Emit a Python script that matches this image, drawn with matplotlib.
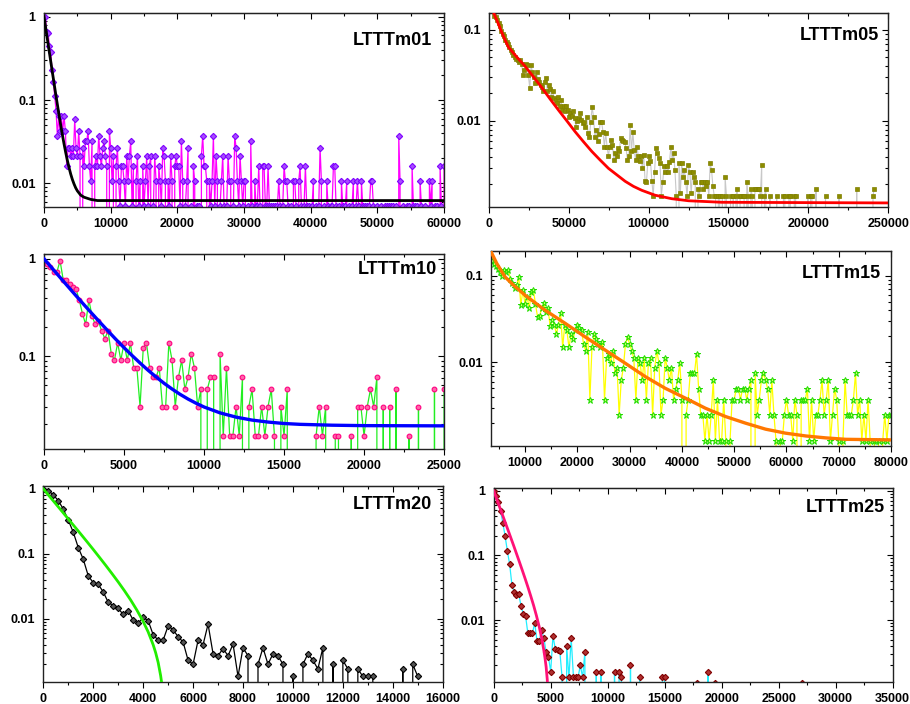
import numpy as np
import matplotlib
matplotlib.use('Agg')
import matplotlib.pyplot as plt
from matplotlib.ticker import MultipleLocator, LogLocator, FuncFormatter, NullFormatter

plt.rcParams['font.family'] = ['Liberation Sans', 'DejaVu Sans']
plt.rcParams['font.weight'] = 'bold'

# ---------------- LTTTm01 (counts, one bin every 200) ----------------
m01_step = 200
m01_norm = 188
m01_counts = [
    188, 124, 122, 84, 71, 43, 31, 21, 14, 7, 12, 8, 12, 8, 12, 8, 3, 5, 5, 4, 5, 4, 11, 5, 4,
    8, 4, 0, 5, 3, 6, 6, 8, 3, 2, 6, 0, 3, 4, 3, 7, 4, 3, 5, 6, 4, 3, 0, 8, 5,
    2, 4, 0, 3, 5, 2, 1, 3, 3, 2, 1, 4, 2, 4, 6, 1, 3, 0, 2, 4, 1, 2, 0, 3, 1,
    2, 4, 1, 3, 4, 0, 1, 4, 2, 0, 3, 2, 1, 5, 4, 2, 0, 2, 1, 4, 2, 0, 3, 4, 3,
    3, 1, 6, 2, 0, 1, 2, 5, 0, 1, 0, 3, 2, 0, 1, 1, 0, 4, 7, 3, 3, 2, 0, 2, 1,
    2, 7, 1, 4, 2, 0, 1, 2, 4, 1, 0, 1, 4, 2, 2, 0, 1, 7, 5, 2, 1, 4, 2, 1, 2,
    2, 0, 1, 0, 6, 1, 0, 2, 1, 1, 3, 1, 0, 3, 3, 1, 1, 3, 1, 1, 0, 1, 1, 0, 1,
    2, 1, 0, 1, 3, 2, 2, 1, 0, 1, 0, 2, 2, 1, 0, 2, 3, 1, 0, 1, 3, 1, 0, 1, 0,
    1, 2, 0, 1, 0, 1, 5, 2, 0, 1, 0, 2, 1, 0, 1, 1, 3, 3, 1, 0, 1, 0, 2, 1, 0,
    1, 2, 0, 1, 0, 1, 2, 0, 1, 2, 1, 0, 2, 1, 0, 1, 1, 0, 1, 2, 2, 1, 0, 0, 1,
    0, 0, 1, 0, 0, 1, 1, 0, 1, 1, 0, 1, 0, 1, 0, 7, 2, 0, 1, 0, 0, 1, 0, 1, 0,
    3, 1, 1, 0, 1, 0, 2, 1, 0, 0, 1, 0, 0, 2, 1, 2, 0, 1, 0, 1, 0, 3, 1, 0, 3,
]
m01_fit_x = [0, 250, 500, 750, 1000, 1250, 1500, 1750, 2000, 2250, 2500, 2750, 3000, 3250,
             3500, 3750, 4000, 4250, 4500, 4750, 5000, 5500, 6000, 7000, 8000, 60000]
m01_fit_y = [1.006, 0.738, 0.541, 0.398, 0.293, 0.216, 0.160, 0.118, 0.0883, 0.0663, 0.0501,
             0.0383, 0.0297, 0.0234, 0.0188, 0.0154, 0.0129, 0.0111, 0.0098, 0.0088, 0.0081,
             0.0072, 0.0068, 0.0064, 0.0062, 0.0062]

# ---------------- LTTTm05 (values x1e-3, one point every 850) ----------------
m05_start = 3400
m05_step = 850
m05_vals = [
    143, 137, 128, 118, 109, 98, 90, 85, 78, 73, 70, 65, 60, 57, 53, 50, 48,
    47, 44, 47, 42, 31.6, 36, 42, 41, 31.6, 23, 41, 34, 30, 25.7, 34, 28.5, 26.5, 24.5, 23.6, 21,
    26.5, 29.7, 21, 24.5, 22.5, 18.4, 21, 18, 17, 15.5, 18.4, 14.6, 17, 13.1, 14.6, 12.8, 14.6, 13.1, 11, 12.1,
    11.3, 12.8, 10.8, 8.6, 10, 10.8, 12.1, 10.3, 9.4, 9.7, 8.6, 11, 7.3, 6.7, 9.7, 14.3, 11, 6.7, 7.9, 6,
    7.1, 9.7, 9.6, 7.6, 5.2, 7.3, 5.2, 4.1, 5.2, 6.2, 5.4, 3.7, 4.4, 4.1, 5.0, 4.6, 6.4, 6.2, 6.0, 5.9,
    5.0, 3.7, 4.1, 9.0, 4.6, 7.6, 4.8, 3.7, 5.2, 4.1, 3.6, 4.1, 3.0, 4.2, 2.2, 2.1, 3.4, 4.1, 3.6, 2.2,
    1.5, 2.7, 5.0, 4.4, 3.9, 3.4, 1.5, 2.1, 3.2, 2.7, 3.2, 2.7, 3.5, 5.2, 3.7, 4.4, 2.9, 1.5, 0, 3.4,
    1.6, 3.4, 2.4, 2.9, 2.1, 1.5, 3.3, 2.7, 1.6, 2.7, 2.4, 2.1, 0, 1.8, 1.5, 2.1, 2.1, 1.8, 2.1, 1.9,
    2.1, 1.5, 3.4, 2.9, 1.9, 1.5,
    1.5, 0, 1.5, 1.5, 0, 1.5, 0, 2.4, 1.5, 0, 0, 1.5, 0, 1.5, 0, 1.5, 1.8, 0,
    1.5, 1.5, 1.5, 1.5, 0, 2.1, 1.5, 0, 1.8, 1.5, 0, 1.8, 1.8, 1.8, 1.8, 1.5, 3.3, 0,
    1.5, 1.8, 0, 0, 1.5, 0, 0, 0, 0, 1.5, 0, 0, 0, 0, 1.5, 1.5, 0, 0,
    1.5, 1.5, 0, 0, 1.5, 1.5, 0, 0, 0, 0, 0, 0, 0, 0, 1.5, 0, 1.5, 1.5,
    0, 0, 1.8, 0, 0, 0, 0, 0, 0, 1.5, 0, 0, 0, 0, 0, 0, 0, 0,
    0, 1.5, 0, 0, 0, 0, 0, 0, 0, 0, 0, 0, 0, 0, 1.8, 0, 0, 0,
    0, 0, 0, 0, 0, 0, 0, 0, 1.5, 1.8,
]
m05_fit_x = [3000, 5850, 7900, 10000, 12100, 17350, 22600, 27800, 33000, 38200, 43500, 48700,
             53900, 59100, 64400, 69600, 74800, 80000, 85300, 90500, 95700, 104000, 114500,
             125000, 145900, 250000]
m05_fit_y = [152, 116, 94.3, 77.7, 64.6, 50.2, 39.7, 30.4, 23.2, 17.4, 13.1, 10.0, 7.6, 5.9,
             4.6, 3.7, 3.0, 2.55, 2.16, 1.9, 1.72, 1.52, 1.39, 1.32, 1.27, 1.25]

# ---------------- LTTTm10 (counts, one bin every 200) ----------------
m10_step = 200
m10_norm = 66
m10_counts = [
    59, 54, 48, 48, 63, 40, 40, 36, 34, 32,
    25, 18, 14, 25, 17, 14, 15, 12, 10, 12,
    7, 6, 9, 6, 9, 6, 9, 5, 5, 2,
    8, 9, 5, 4, 4, 5, 2, 2, 9, 6,
    2, 4, 6, 3, 4, 7, 5, 2, 3, 0,
    3, 4, 4, 0, 7, 1, 5, 1, 1, 2,
    1, 4, 0, 2, 3, 1, 1, 2, 1, 2,
    3, 1, 0, 2, 1, 3, 0, 0, 0, 0,
    0, 0, 0, 0, 1, 2, 1, 2, 0, 0,
    1, 1, 0, 0, 0, 1, 0, 2, 2, 1,
    2, 3, 2, 4, 0, 2, 0, 2, 0, 3,
    0, 0, 0, 1, 0, 0, 2, 0, 0, 0,
    0, 3, 0, 0, 3,
]
m10_fit_x = [0, 500, 1000, 1500, 2000, 2500, 3000, 3500, 4000, 4500, 5000, 5500, 6000, 6500,
             7000, 7500, 8000, 8500, 9000, 9500, 10000, 11000, 12000, 13000, 14000, 15000,
             16000, 18000, 20000, 25000]
m10_fit_y = [0.999, 0.802, 0.644, 0.518, 0.417, 0.337, 0.273, 0.222, 0.181, 0.148, 0.122,
             0.1015, 0.0849, 0.0716, 0.0611, 0.0526, 0.0459, 0.0405, 0.0362, 0.0328, 0.0300,
             0.0261, 0.0236, 0.0220, 0.0210, 0.0203, 0.0199, 0.0195, 0.0193, 0.0192]

# ---------------- LTTTm15 (counts, one bin every 400) ----------------
m15_start = 3600
m15_step = 400
m15_norm = 806
m15_counts = [
    120, 112, 104, 96, 90, 80, 95, 90, 95, 75,
    66, 58, 63, 78, 37, 55, 38, 46, 34, 52,
    55, 38, 27, 28, 34, 39, 31, 34, 21, 25,
    22, 17, 22, 30, 12, 22, 19, 12, 17, 15,
    19, 22, 20, 19, 13, 11, 18, 3, 12, 17,
    15, 13, 12, 14, 3, 9, 10, 8, 11, 6,
    7, 2, 5, 7, 13, 16, 13, 11, 9, 3,
    9, 8, 5, 9, 3, 8, 9, 2, 7, 11,
    8, 2, 3, 9, 7, 5, 7, 3, 4, 5,
    8, 3, 0, 2, 3, 6, 6, 6, 10, 4,
    2, 2, 1, 2, 1, 2, 5, 1, 3, 1,
    1, 3, 1, 0, 1, 3, 3, 4, 4, 3,
    4, 4, 3, 4, 5, 0, 6, 2, 3, 5,
    6, 5, 4, 2, 5, 2, 1, 0, 1, 1,
    2, 3, 2, 2, 1, 3, 2, 0, 3, 3,
    3, 4, 1, 3, 1, 2, 2, 3, 5, 2,
    3, 5, 1, 2, 4, 3, 1, 0, 1, 5,
    2, 2, 2, 3, 6, 2, 3, 1, 2, 1,
    3, 1, 0, 1, 1, 1, 0, 1, 2, 1,
    2, 2,
]
m15_fit_x = [3500, 4600, 6200, 7800, 10000, 13800, 17700, 21500, 25300, 29200, 33000, 36800,
             40700, 44500, 48300, 52200, 56000, 59800, 63700, 67500, 71300, 80000]
m15_fit_y = [0.19, 0.139, 0.097, 0.078, 0.0598, 0.0402, 0.0282, 0.0197, 0.0139, 0.00974,
             0.00684, 0.00502, 0.00385, 0.00295, 0.00237, 0.00198, 0.00169, 0.00152, 0.00141,
             0.00134, 0.00129, 0.00127]

# ---------------- LTTTm20 (values x1e-3, one point every 200) ----------------
m20_step = 200
m20_vals = [
    1000, 940, 810, 660, 490, 330, 216, 125, 83, 46,
    36, 34, 26, 18, 16, 14.5, 11.7, 13.3, 9.6, 8.6,
    10.5, 9.4, 5.7, 4.7, 4.7, 7.8, 6.8, 5.3, 4.4, 2.3,
    2.0, 4.7, 4.0, 8.3, 2.9, 2.7, 3.5, 2.7, 4.1, 1.3,
    3.6, 2.7, 0, 2.0, 3.6, 2.0, 2.9, 2.7, 2.0, 0,
    1.3, 0, 2.0, 2.9, 2.3, 1.7, 3.6, 0, 2.0, 0,
    2.3, 1.7, 0, 1.7, 1.3, 1.3, 1.3, 0, 0, 0,
    0, 0, 1.7, 0, 2.0, 1.3,
]
m20_fit_x = [0, 250, 500, 750, 1000, 1250, 1500, 1750, 2000, 2250, 2500, 2750, 3000, 3250,
             3500, 3750, 4000, 4200, 4400, 4500, 4600, 4700, 4750, 4800]
m20_fit_y = [1.0, 0.767, 0.589, 0.451, 0.345, 0.264, 0.202, 0.154, 0.117, 0.0884, 0.0666,
             0.0498, 0.0370, 0.0271, 0.0195, 0.0136, 0.00913, 0.0063, 0.0040, 0.00302,
             0.00214, 0.00134, 0.00098, 0.00064]

# ---------------- LTTTm25 (values x1e-3, one point every 200) ----------------
m25_step = 200
m25_vals = [
    1000, 830, 670, 490, 320, 200, 117, 73, 35, 27,
    24, 25, 16.5, 12.4, 11.5, 6.2, 6.2, 6.2, 9.1, 4.7,
    4.7, 7.0, 5.3, 3.2, 2.7, 1.6, 5.7, 3.6, 3.4, 3.3,
    1.3, 0, 4.0, 1.3, 5.2, 1.3, 1.3, 1.3, 2.0, 1.3,
    3.2, 0, 0, 0, 0, 1.6, 0, 1.6, 0, 0,
    0, 0, 0, 1.6, 0, 1.6, 1.3, 0, 0, 0,
    2.0, 0, 0, 0, 1.3, 0, 0, 0, 0, 0,
    0, 0, 0, 0, 1.3, 1.3, 0, 0, 0, 0,
    0, 0, 0, 0, 0, 0, 0, 0, 0, 1.05,
    0, 0, 0, 0, 1.6, 0, 0, 1.05, 0, 0,
    0, 0, 0, 0, 0, 0, 0, 0, 0, 0,
    0, 0, 0, 0, 0, 0, 0, 0, 0, 0,
    0, 0, 0, 0, 0, 0, 0, 0, 0, 0,
    0, 0, 0, 0, 0, 1.05,
]
m25_fit_x = [0, 250, 500, 750, 1000, 1250, 1500, 1750, 2000, 2250, 2500, 2750, 3000, 3250,
             3500, 3750, 4000, 4200, 4400, 4500, 4600, 4700, 4800]
m25_fit_y = [0.9955, 0.755, 0.573, 0.434, 0.329, 0.249, 0.188, 0.142, 0.1065, 0.0799, 0.0596,
             0.0442, 0.0325, 0.0236, 0.0169, 0.0117, 0.0078, 0.0054, 0.0034, 0.0026, 0.0019,
             0.0012, 0.0006]


def setup(ax, xlim, ylim, xmaj, xmin, label, lpos):
    ax.set_yscale('log', nonpositive='clip')
    ax.set_xlim(*xlim)
    ax.set_ylim(*ylim)
    ax.xaxis.set_major_locator(MultipleLocator(xmaj))
    ax.xaxis.set_minor_locator(MultipleLocator(xmin))
    ax.xaxis.set_major_formatter(FuncFormatter(lambda v, p: '%d' % round(v)))
    ax.yaxis.set_major_locator(LogLocator(base=10, numticks=10))
    ax.yaxis.set_minor_locator(LogLocator(base=10, subs=range(2, 10), numticks=20))
    ax.yaxis.set_major_formatter(FuncFormatter(lambda v, p: '%g' % v))
    ax.yaxis.set_minor_formatter(NullFormatter())
    ax.tick_params(axis='x', which='major', direction='out', length=4, width=0.8,
                   labelsize=9, pad=4)
    ax.tick_params(axis='x', which='minor', direction='out', length=2, width=0.8)
    ax.tick_params(axis='y', which='major', direction='in', length=4, width=0.8,
                   right=True, labelsize=9, pad=6)
    ax.tick_params(axis='y', which='minor', direction='in', length=2, width=0.8, right=True)
    top = ax.secondary_xaxis('top')
    top.xaxis.set_major_locator(MultipleLocator(xmaj))
    top.xaxis.set_minor_locator(MultipleLocator(xmin))
    top.tick_params(which='major', direction='in', length=4, width=0.8, labeltop=False)
    top.tick_params(which='minor', direction='in', length=2, width=0.8)
    for s in ax.spines.values():
        s.set_linewidth(1.0)
        s.set_color('#222222')
    ax.text(lpos[0], lpos[1], label, transform=ax.transAxes, ha='right', va='center',
            fontsize=13, fontweight='bold')


fig = plt.figure(figsize=(9.1, 7.04), dpi=100)

# LTTTm01
ax = fig.add_axes([0.0484, 0.7056, 0.4396, 0.2756])
x = m01_step * np.arange(1, len(m01_counts) + 1)
y = np.array(m01_counts, dtype=float) / m01_norm
ax.plot(x, y, '-', color='#FF00FF', lw=0.9, marker='D', ms=3.2, mfc='#A64DFF',
        mec='#7F00FF', mew=0.8, zorder=2)
ax.plot(m01_fit_x, m01_fit_y, color='black', lw=2, zorder=3)
setup(ax, (0, 60000), (0.00515, 1.107), 10000, 5000, 'LTTTm01', (0.969, 0.861))

# LTTTm05
ax = fig.add_axes([0.5374, 0.7056, 0.4385, 0.2756])
x = m05_start + m05_step * np.arange(len(m05_vals))
y = np.array(m05_vals, dtype=float) * 1e-3
ax.plot(x, y, '-', color='#C8C8C8', lw=0.8, marker='s', ms=2.6, mfc='#8C8C00',
        mec='#808000', mew=0.5, zorder=2)
ax.plot(m05_fit_x, np.array(m05_fit_y) * 1e-3, color='#FF0000', lw=2, zorder=3)
setup(ax, (0, 250000), (0.00112, 0.152), 50000, 25000, 'LTTTm05', (0.977, 0.887))

# LTTTm10
ax = fig.add_axes([0.0484, 0.3622, 0.4396, 0.2770])
x = m10_step * np.arange(1, len(m10_counts) + 1)
y = np.array(m10_counts, dtype=float) / m10_norm
ax.plot(x, y, '-', color='#22EE22', lw=0.9, marker='o', ms=3.4, mfc='#FF66AA',
        mec='#FF0080', mew=0.8, zorder=2)
ax.plot(m10_fit_x, m10_fit_y, color='#0000FF', lw=2.4, zorder=3)
setup(ax, (0, 25000), (0.0111, 1.12), 5000, 2500, 'LTTTm10', (0.982, 0.918))

# LTTTm15
ax = fig.add_axes([0.5396, 0.3665, 0.4396, 0.2770])
x = m15_start + m15_step * np.arange(len(m15_counts))
y = np.array(m15_counts, dtype=float) / m15_norm
ax.plot(x, y, '-', color='#FFFF00', lw=0.9, marker='*', ms=5, mfc='#CCFF66',
        mec='#22DD00', mew=0.7, zorder=2)
ax.plot(m15_fit_x, m15_fit_y, color='#FF7700', lw=2.4, zorder=3)
setup(ax, (3500, 80000), (0.00108, 0.194), 10000, 5000, 'LTTTm15', (0.975, 0.884))

# LTTTm20
ax = fig.add_axes([0.0476, 0.0317, 0.4389, 0.2780])
x = m20_step * np.arange(len(m20_vals))
y = np.array(m20_vals, dtype=float) * 1e-3
ax.plot(x, y, '-', color='black', lw=0.9, marker='D', ms=3.2, mfc='#555555',
        mec='black', mew=0.8, zorder=2)
ax.plot(m20_fit_x, m20_fit_y, color='#22EE00', lw=2, zorder=3)
setup(ax, (0, 16000), (0.00108, 1.11), 2000, 1000, 'LTTTm20', (0.973, 0.903))

# LTTTm25
ax = fig.add_axes([0.5425, 0.0308, 0.4385, 0.2756])
x = m25_step * np.arange(len(m25_vals))
y = np.array(m25_vals, dtype=float) * 1e-3
ax.plot(x, y, '-', color='#22EEFF', lw=0.9, marker='D', ms=3.2, mfc='#B03030',
        mec='#800000', mew=0.8, zorder=2)
ax.plot(m25_fit_x, m25_fit_y, color='#FF1177', lw=2, zorder=3)
setup(ax, (0, 35000), (0.00109, 1.09), 5000, 2500, 'LTTTm25', (0.981, 0.902))

fig.savefig('out.png', dpi=100)
